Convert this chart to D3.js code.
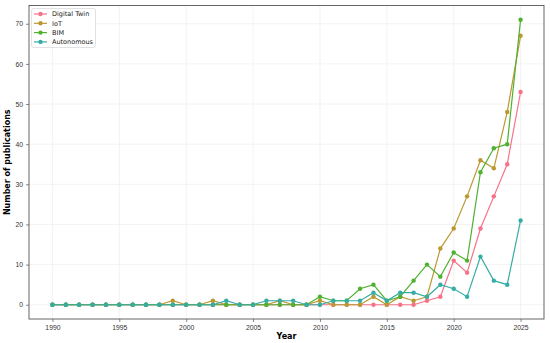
<!DOCTYPE html>
<html lang="en">
<head>
<meta charset="UTF-8">
<title>Publications per year</title>
<script src="https://d3js.org/d3.v7.min.js"></script>
<style>
  body { margin: 0; padding: 0; background: #fff; }
  svg { display: block; font-family: 'DejaVu Sans', sans-serif; }
  .tick text { font-size: 6.8px; fill: #333; }
  .axis-label { font-size: 8px; font-weight: bold; fill: #000; }
</style>
</head>
<body>
<svg width="550" height="343"></svg>
<script>
const years = d3.range(1990, 2026);

const digitalTwin = [0,0,0,0,0,0,0,0,0,0, 0,0,0,0,0,0,0,0,0,0, 0,0,0,0,0,0,0,0,1,2, 11,8,19,27,35,53];
const iot         = [0,0,0,0,0,0,0,0,0,1, 0,0,1,0,0,0,0,1,0,0, 1,0,0,0,2,0,2,1,2,14, 19,27,36,34,48,67];
const bim         = [0,0,0,0,0,0,0,0,0,0, 0,0,0,0,0,0,0,0,0,0, 2,1,1,4,5,1,2,6,10,7, 13,11,33,39,40,71];
const autonomous  = [0,0,0,0,0,0,0,0,0,0, 0,0,0,1,0,0,1,1,1,0, 0,1,1,1,3,1,3,3,2,5, 4,2,12,6,5,21];

const seriesNames = ["Digital Twin", "IoT", "BIM", "Autonomous"];
const seriesValues = [digitalTwin, iot, bim, autonomous];
const seriesColors = ["#f77189", "#bb9832", "#50b131", "#36ada4"];

const xTicks = [1990, 1995, 2000, 2005, 2010, 2015, 2020, 2025];
const yTicks = [0, 10, 20, 30, 40, 50, 60, 70];

const svg = d3.select("svg");
const margin = { top: 5.5, right: 6, bottom: 24, left: 29 };
const width = 550, height = 343;

const x = d3.scaleLinear()
    .domain([1988.25, 2026.75])
    .range([margin.left, width - margin.right]);
const y = d3.scaleLinear()
    .domain([-3.55, 74.55])
    .range([height - margin.bottom, margin.top]);

// grid
svg.append("g")
   .selectAll("line")
   .data(xTicks)
   .enter().append("line")
   .attr("x1", d => x(d)).attr("x2", d => x(d))
   .attr("y1", y.range()[0]).attr("y2", y.range()[1])
   .attr("stroke", "#ebebeb").attr("stroke-width", 0.6);
svg.append("g")
   .selectAll("line")
   .data(yTicks)
   .enter().append("line")
   .attr("y1", d => y(d)).attr("y2", d => y(d))
   .attr("x1", x.range()[0]).attr("x2", x.range()[1])
   .attr("stroke", "#ebebeb").attr("stroke-width", 0.6);

// axes
const xAxis = svg.append("g")
   .attr("transform", `translate(0,${y.range()[0]})`)
   .call(d3.axisBottom(x).tickValues(xTicks).tickFormat(d3.format("d")).tickSize(3).tickPadding(3));
const yAxis = svg.append("g")
   .attr("transform", `translate(${x.range()[0]},0)`)
   .call(d3.axisLeft(y).tickValues(yTicks).tickSize(3).tickPadding(3));
[xAxis, yAxis].forEach(a => {
  a.select(".domain").remove();
  a.selectAll(".tick line").attr("stroke", "#555").attr("stroke-width", 0.7);
});

// frame
svg.append("rect")
   .attr("x", x.range()[0]).attr("y", y.range()[1])
   .attr("width", x.range()[1] - x.range()[0])
   .attr("height", y.range()[0] - y.range()[1])
   .attr("fill", "none").attr("stroke", "#555").attr("stroke-width", 0.9);

// series
const line = d3.line().x((d, i) => x(years[i])).y(d => y(d));
seriesValues.forEach((vals, k) => {
  svg.append("path")
     .datum(vals)
     .attr("d", line)
     .attr("fill", "none")
     .attr("stroke", seriesColors[k])
     .attr("stroke-width", 1.2);
  svg.append("g")
     .selectAll("circle")
     .data(vals)
     .enter().append("circle")
     .attr("cx", (d, i) => x(years[i]))
     .attr("cy", d => y(d))
     .attr("r", 2.2)
     .attr("fill", seriesColors[k]);
});

// axis labels
svg.append("text")
   .attr("class", "axis-label")
   .attr("x", (x.range()[0] + x.range()[1]) / 2)
   .attr("y", 338.5)
   .attr("text-anchor", "middle")
   .text("Year");
svg.append("text")
   .attr("class", "axis-label")
   .attr("transform", `translate(10,${(y.range()[0] + y.range()[1]) / 2}) rotate(-90)`)
   .attr("text-anchor", "middle")
   .text("Number of publications");

// legend
const legend = svg.append("g");
legend.append("rect")
   .attr("x", 31.5).attr("y", 8.5)
   .attr("width", 64).attr("height", 39)
   .attr("rx", 2)
   .attr("fill", "#fff").attr("fill-opacity", 0.85)
   .attr("stroke", "#d5d5d5").attr("stroke-width", 0.7);
seriesNames.forEach((name, k) => {
  const ly = 14 + k * 9.3;
  legend.append("line")
     .attr("x1", 34).attr("x2", 47).attr("y1", ly).attr("y2", ly)
     .attr("stroke", seriesColors[k]).attr("stroke-width", 1.2);
  legend.append("circle")
     .attr("cx", 40.5).attr("cy", ly).attr("r", 2.2)
     .attr("fill", seriesColors[k]);
  legend.append("text")
     .attr("x", 52).attr("y", ly + 2.3)
     .attr("font-size", "6.5px").attr("fill", "#222")
     .text(name);
});
</script>
</body>
</html>
